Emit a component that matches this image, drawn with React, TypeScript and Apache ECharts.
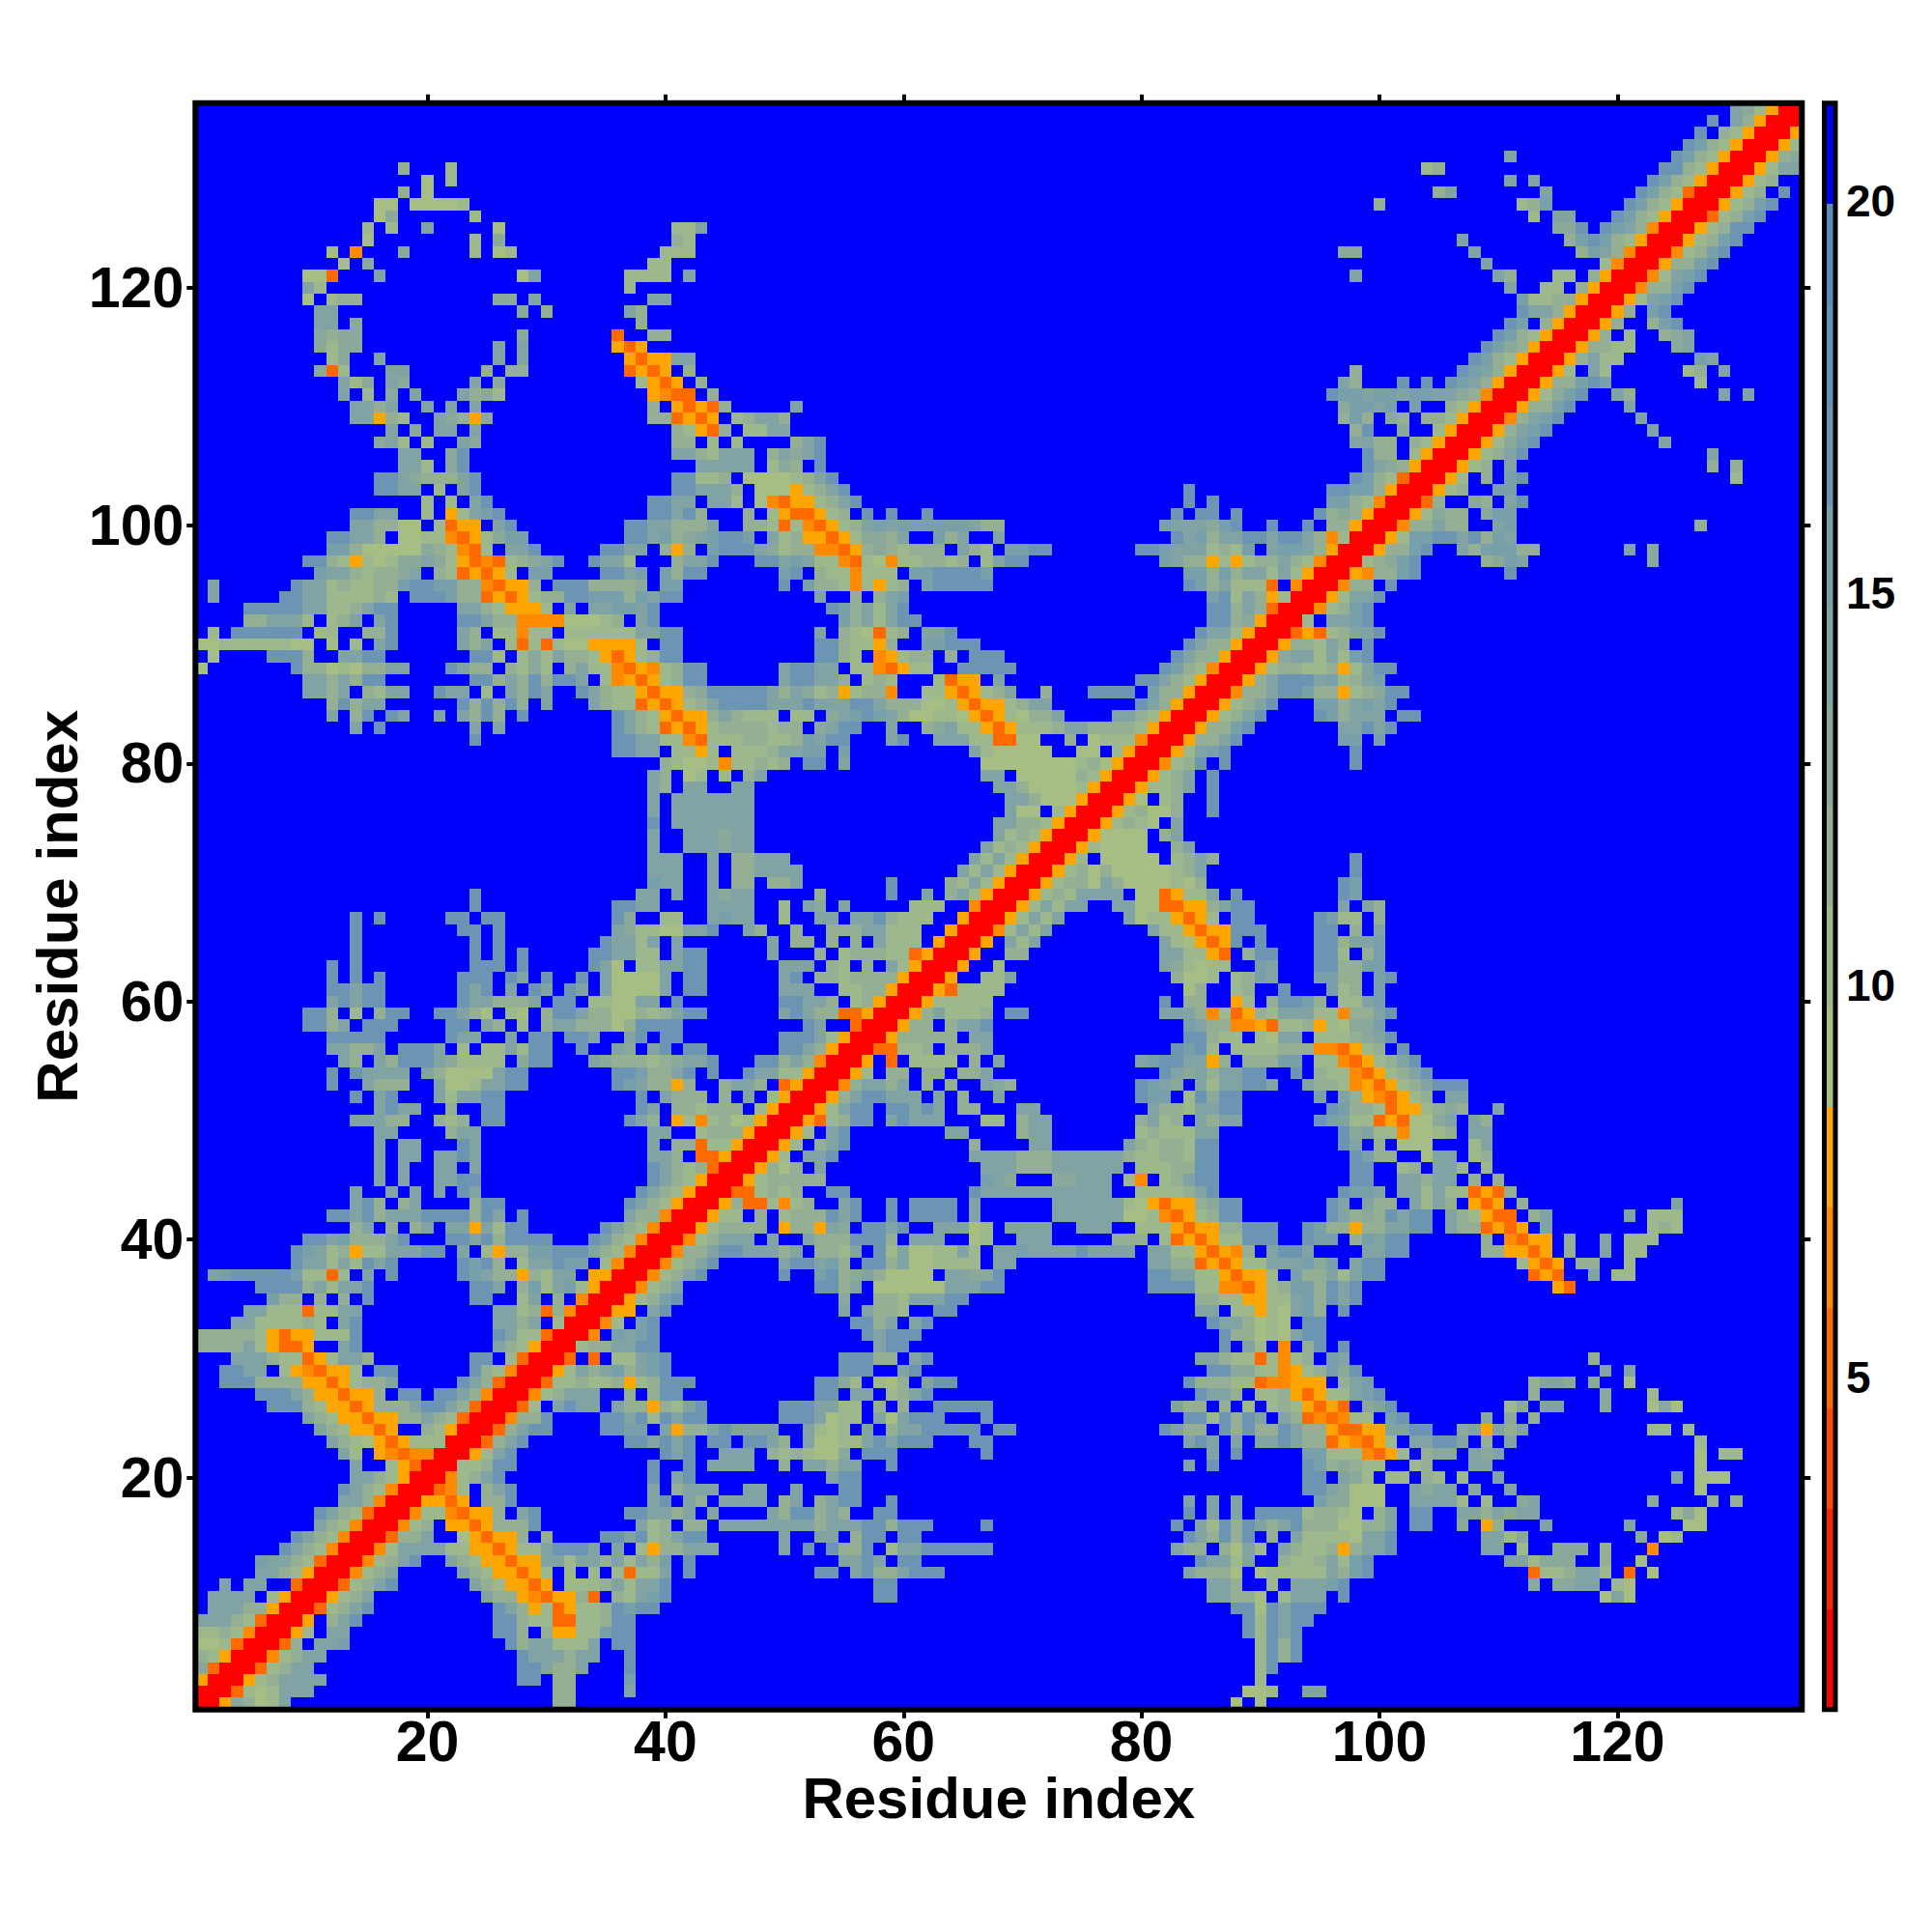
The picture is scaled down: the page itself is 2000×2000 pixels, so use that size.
import React, { useEffect, useRef } from "react";
import * as echarts from "echarts";

const FONT = "'Liberation Sans', Arial, sans-serif";
const residues: string[] = [];
for (let i = 1; i <= 135; i++) residues.push(String(i));
const tickLabels = ["20", "40", "60", "80", "100", "120"];
const barTicks = [5, 10, 15, 20];
const levelEdges = [0.77, 2.05, 3.33, 4.61, 5.89, 7.17, 8.45, 9.73, 11.01, 12.29, 13.57, 14.85, 16.13, 17.41, 18.69, 19.97, 21.25];
const palette = ["#ff0000", "#ff2400", "#ff4a00", "#ff6a00", "#ff8a00", "#ffa500", "#a6bd84", "#9db88c", "#94af93", "#8ba99b", "#82a3a3", "#78a0ab", "#6c95b3", "#6590b9", "#5c8abf", "#0000ff"];

// One line per residue y, from 135 down to 1.
// Each "x:chars" gives colour levels (hex index into palette) from residue x on; "." = blue.
const upperRows = [
  "130:a97500",
  "128:c.a8500",
  "127:c.87500",
  "126:cb87500",
  "111:a 125:cb87500",
  "18:8 22:7 104:78 124:cc87500",
  "20:6 22:7 111:a 113:a 123:cb87500",
  "18:8 20:6 105:8a 114:a 122:cb87300",
  "16:66 19:66667 100:8 112:78b 121:cb87500",
  "16:69 24:7 113:7 115:aa 120:cb87500",
  "15:7 17:7 20:a 26:6 41:77a 115:99c 119:cba8400",
  "15:6 24:7 26:9 41:87 107:a 116:8bcb87500",
  "12:6 14:4 18:9 24:7 26:67 40:777 97:99 108:a 117:8ba8400",
  "13:6 15:9 39:77 109:a 119:7400",
  "10:663 16:a 28:6a 37:7777.a 98:a 110:a8 115:77 118:8500",
  "10:a7 37:7 111:a 114:77.8500",
  "10:6.788 26:99 29:a 39:aa 112:b7788500",
  "11:aa 28:9 30:8 37:a8 112:caa8500",
  "11:aa 14:9 38:8 111:cb.8500",
  "11:9899 28:9 36:3 39:88 110:cb87500",
  "11:9799 26:a 28:a 36:535 109:cb98500",
  "12:79 16:a 26:a 28:a 37:5355aa 108:cb87500",
  "11:937 17:aa 25:8 27:88 37:3535.8 98:8 107:cba8500",
  "13:a79 17:a9 24:a 26:9 38:7535.8 97:a8 102:c 104:c 106:cba8500",
  "13:a.7 17:9 19:a 23:a897 39:5433.8 96:cbbabbabbaa98400",
  "14:aa8a 20:a 22:a 24:a 39:8.53538 51:a 97:9bbab.b..87500",
  "14:aa587 21:a9859 39:883535 46:78aa8 97:8b8.98.887500",
  "17:a 19:9 21:aa 24:a 41:87538 47:77aa 98:8c..9..7500",
  "16:9a7 20:7 23:a9 41:88.7.7 51:8ac 98:aa88.87500",
  "18:aa 22:9c 41:aa87aaa 49:8a9ac 99:c88.7500",
  "18:aa7 22:9c 43:aaaaa 49:798.c 99:ca98500",
  "16:cca9888ac 41:cc778 47:666678ac 98:cb87300",
  "16:ccaa.7.ac 41:ccaaa8 48:666578ac 84:c 96:ccbb8500",
  "20:7.7.ac 39:ccaa.aa7 48:6435578ac 84:c 86:c 96:bb87400",
  "14:ccaa..7.57abc 39:ccac8...8.7533578.c.c..c 83:c.cc.c 95:c898500",
  "14:aa8866.7355.ac 37:ccaa888a..8873743578ababbbbbba88 82:baaa9bc 91:c..c.88500",
  "12:ccaa8.667743579bb 37:ccab89abccb.a7855357998a..b8a..a 83:cab8aaccacca84700",
  "12:bb866666987437.aac 35:ccaa.858.bccca978844358987888.a87.bbcc 80:ccbaaa787b.abba8500",
  "10:cc87576799a975343789ac 34:caa7...8aac 48:ccaba7743764778878.7acc 82:ba88575788a87400",
  "11:baa87889a.8735357.bb 35:ccab.b8cc 50:bc.8774777.bbccccb 84:bb8b8aa7a7500",
  "2:a 9:caa787788bccbb8843558.ccc88889.bb 50:c.b88747578.bccccc 84:cb8a7773.400",
  "2:a 8:ccaa777787.cccb883535788ccbbb8bacc 53:a..8.8ab 86:bc7a85700",
  "5:cccccaa778acc 23:aa875557.a.aabbac 54:cb8a7ac 86:cc8a8300",
  "5:88aaa7.78a.ac 23:cca88444466678.ac 55:b8a7acc 86:cc89500",
  "2:7.cccccc.77..88c 23:a8.77477.777777aacc 53:a.876378.aac 85:caa7500",
  "1:6677777766.6.7.ac 23:a8a.737376655557.cc 53:cc87758..bbccc 84:ca88500",
  "2:6 7:ccc8 13:aacc 24:cc7.797a88753578cc 53:cc87.45788.8.ccc 83:ca88500",
  "1:6 9:c8867688aa 22:ca88.8797.8a77435478cc 50:accaa.7743577..ccccc 82:cb87400",
  "10:aa8a8cc 24:cc8a8c8cca.7453578cc 50:accaa8.787...7355.a 80:cca87500",
  "10:aa8a.87aa 21:caa.7.a8ca..ca877535589cc 46:ccca8a97857884..7753578a..8 76:cccc.b88500",
  "12:8c8aa 23:c8c8c8.a 34:a877353578ac 46:cccaaacaaacca888667535578aa 80:ca8500",
  "12:a.8c.ca 21:a.a8c8.c 36:ca8753558a 46:8777.77.9abcba8667765357688a 78:aa87500",
  "14:a.c 24:a.a 36:ca87353578 46:888788.9acc..a..89a775357778aa88887500",
  "24:c 36:ccaa774377 46:788778bacc...ac..aaa773366..8.6777400",
  "36:ccaa.7757.7778aabb.b 66:a766666..66.7500",
  "40:87667477878.cc.a 67:66666666786500",
  "39:a8.67.7.8a 67:aa.6666687500",
  "39:a8.aa..aa 68:aa866667500",
  "39:a.aaaaaaa 69:aa8666500",
  "39:a.aaaaaaa 69:a66.7500",
  "39:c.aaaaaaa 68:aa887500",
  "39:a..aaa9aa 68:a787500",
  "39:a..aaa9aa 67:a787500",
  "39:aaa..a.88aaa 66:a7a7500",
  "39:aaa..a.88aaaa 65:a7a7500",
  "39:baa..a.88.88a 59:c 64:87a7500",
  "24:c 38:aa.a..a9aa 53:8 59:c 62:a.8a7500",
  "24:c 36:ccaa....aaaa 50:7.a9.a 61:777..400",
  "14:c.c 22:cc.cc 36:c9..77..abaa..7..aa.aac8777..500",
  "14:c 23:cc.c 36:a97766aac 47:a8 51:8 54:888aa777..500",
  "14:c 24:c.c 35:caa7a.a 49:a.88.8.8.a777.500",
  "14:c 24:c.c.c 34:ccaa77.acc 49:a 53:8.7888773500",
  "12:c.c 24:ccc.c 34:ca6.77aacc 50:aaa.87.8.a7500",
  "12:c.c.c 23:ccc.ca.c 33:c.a6666a.cc 50:ac.8878888500",
  "12:ccacc 23:cac.a.ca.ca.a6666a.cc 50:aaa..7788500",
  "12:acacc 23:caa888a.cc.7766aa.c 50:ccaa8.78500",
  "10:cc8.7.8cc 21:cca86.76.8cca8866878acc 50:aca8833500",
  "10:cc8a.ccc 22:cc.a8.7.8aa88868cccc 52:ca..300",
  "12:ccccc 22:caa..a.cc.cca..ac.cc 50:ccca7500",
  "12:aa88a.ccca.7.77a7cc..c..a9.ac.cc 50:cca8500",
  "13:a8.a8ccca97777.9cc 34:a9888789aac 48:cc8a8400",
  "12:c.caaaa.a86666acc 36:ccb88ac.c 47:caa77500",
  "12:c 15:a888 21:a667aacc 36:cba8858..8aa8.3500",
  "14:c.ac 21:a7aacc 38:c.a888.8.a.7500",
  "16:acaa 22:8 25:cc 38:ca.887888.7500",
  "14:aaa88 21:878.cc 37:ca8.5747867500",
  "16:aa 22:8aa 39:aa..7888500",
  "16:a.aa 23:ca 39:a.88377500",
  "16:a.aa.aaca 39:aa8.33500",
  "16:a.a..aa.a 39:ca878300",
  "16:a.a..aacc 39:ca87500",
  "14:a..a.a.a.ca 38:ca87500",
  "14:ac8.8a....8cc 37:ca87500",
  "12:ccac8aaacccc8ca.c 37:a88400",
  "14:8a.8.8a.aa5a7cc 35:ca87400",
  "10:ccab888ac...ccac8cccc 34:cb87400",
  "9:cba78577aaacc.a.7588bbccca87400",
  "9:caa7a7cac 23:cbc8.7aacbb.7400",
  "2:abcccccb7737.a.c 23:cba88587aa.5500",
  "6:cccc8a7aac 24:cca.8b7ab7500",
  "7:b88.8.8.c 24:cc..7a.8.400",
  "5:aa777377aa 26:aa7838400",
  "4:aa777787.ac 26:aa8a.700",
  "1:8888875355777c 26:ca77300",
  "1:8888a75335..ac 26:a87500",
  "4:aaa877357aa8 24:cc.7300",
  "3:ccaa.7543557.cc 24:c87400",
  "3:ccc88885535788a 23:ca8300",
  "6:ccca8553558.cc.cca8400",
  "7:ccc875535888acca8300",
  "10:a875535588a87300",
  "11:a875535..87500",
  "12:a87653577700",
  "13:a7.5434400",
  "14:a..75300",
  "14:aa87500",
  "13:ca87400",
  "13:aa8400",
  "11:ca87300",
  "11:a87400",
  "9:ca87400",
  "8:ca87400",
  "6:baa87300",
  "6:aa87500",
  "3:a.aa..300",
  "2:aaaa.7500",
  "2:aaa88500",
  "1:aaa87300",
  "1:7787400",
  "1:667300",
  "1:87500",
  "1:9300",
  "1:500",
  "1:00",
  "1:0",
];

function buildCells(): number[][] {
  const BLUE = 15;
  const m: number[][] = residues.map(() => residues.map(() => BLUE));
  upperRows.forEach((line, idx) => {
    const y = 135 - idx;
    line.split(" ").forEach((seg) => {
      const [start, chars] = seg.split(":");
      chars.split("").forEach((c, k) => {
        const x = Number(start) + k;
        const level = c === "." ? BLUE : parseInt(c, 16);
        m[y - 1][x - 1] = level;
        m[x - 1][y - 1] = level;
      });
    });
  });
  const out: number[][] = [];
  m.forEach((row, yi) =>
    row.forEach((level, xi) => {
      out.push([xi, yi, (levelEdges[level] + levelEdges[level + 1]) / 2, level]);
    })
  );
  return out;
}

const isTick = (_: number, v: string) => tickLabels.includes(v);

export default function App() {
  const ref = useRef<HTMLDivElement>(null);
  useEffect(() => {
    const chart = echarts.init(ref.current!, null, { renderer: "svg", width: 2000, height: 2000 });
    const L = 202.3, T = 106.8, S = 1663;
    const catAxis = (position: string, labels: boolean, margin: number, extra: any = {}) => ({
      type: "category",
      data: residues,
      position,
      boundaryGap: true,
      axisLine: { show: false },
      splitLine: { show: false },
      axisTick: { show: true, alignWithLabel: true, interval: isTick, length: 9, lineStyle: { color: "#000", width: 4 } },
      axisLabel: labels
        ? { show: true, interval: isTick, color: "#000", fontFamily: FONT, fontWeight: "bold", fontSize: 59, margin }
        : { show: false },
      ...extra,
    });
    const titleStyle = { color: "#000", fontFamily: FONT, fontWeight: "bold", fontSize: 60 };
    chart.setOption({
      animation: false,
      backgroundColor: "#fff",
      grid: [
        { left: L, top: T, width: S, height: S, containLabel: false },
        { left: 1888.5, top: T, width: 11.5, height: S, containLabel: false },
      ],
      xAxis: [
        catAxis("bottom", true, 4, { gridIndex: 0, name: "Residue index", nameLocation: "middle", nameMoveOverlap: false, nameGap: 62, nameTextStyle: titleStyle }),
        catAxis("top", false, 0, { gridIndex: 0 }),
        { type: "value", gridIndex: 1, min: 0, max: 1, show: false },
      ],
      yAxis: [
        catAxis("left", true, 12, { gridIndex: 0, name: "Residue index", nameLocation: "middle", nameMoveOverlap: false, nameGap: 113, nameTextStyle: titleStyle }),
        catAxis("right", false, 0, { gridIndex: 0 }),
        {
          type: "value",
          gridIndex: 1,
          position: "right",
          min: levelEdges[0],
          max: levelEdges[levelEdges.length - 1],
          splitLine: { show: false },
          axisLine: { show: false },
          axisTick: { show: true, length: 7, customValues: barTicks, lineStyle: { color: "#000", width: 4 } },
          axisLabel: { show: true, margin: 11, customValues: barTicks, color: "#000", fontFamily: FONT, fontWeight: "bold", fontSize: 46 },
        },
      ],
      series: [
        {
          type: "custom",
          xAxisIndex: 0,
          yAxisIndex: 0,
          silent: true,
          progressive: 0,
          encode: { x: 0, y: 1 },
          data: buildCells(),
          renderItem: (_: any, api: any) => {
            const c = api.coord([api.value(0), api.value(1)]);
            const s = api.size([1, 1]);
            const x0 = Math.round(c[0] - s[0] / 2);
            const x1 = Math.round(c[0] + s[0] / 2);
            const y0 = Math.round(c[1] - s[1] / 2);
            const y1 = Math.round(c[1] + s[1] / 2);
            return {
              type: "rect",
              shape: { x: x0, y: y0, width: x1 - x0, height: y1 - y0 },
              style: { fill: palette[api.value(3)] },
            };
          },
        },
        {
          type: "custom",
          xAxisIndex: 2,
          yAxisIndex: 2,
          silent: true,
          progressive: 0,
          encode: { x: 0, y: [1, 2] },
          data: palette.map((_, i) => [0, levelEdges[i], levelEdges[i + 1], i]),
          renderItem: (_: any, api: any) => {
            const lo = api.coord([0, api.value(1)]);
            const hi = api.coord([1, api.value(2)]);
            return {
              type: "rect",
              shape: { x: lo[0], y: Math.round(hi[1]), width: hi[0] - lo[0], height: Math.round(lo[1]) - Math.round(hi[1]) },
              style: { fill: palette[api.value(3)] },
            };
          },
        },
      ],
      graphic: [
        { type: "rect", z: 100, silent: true, shape: { x: L, y: T, width: S, height: S }, style: { fill: "transparent", stroke: "#000", lineWidth: 6 } },
        { type: "rect", z: 100, silent: true, shape: { x: 1888.5, y: T, width: 11.5, height: S }, style: { fill: "transparent", stroke: "#000", lineWidth: 5 } },
      ],
    });
    return () => chart.dispose();
  }, []);
  return <div ref={ref} style={{ position: "absolute", left: 0, top: 0, width: 2000, height: 2000 }} />;
}
